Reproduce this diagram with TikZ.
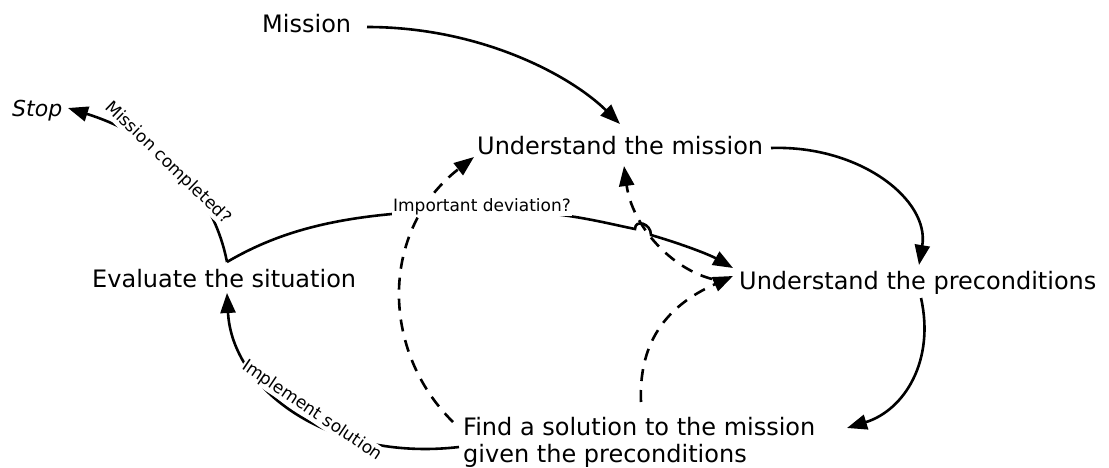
\documentclass[tikz,border=0pt]{standalone}
\usepackage{fontspec}
\setmainfont{DejaVu Sans}
\usetikzlibrary{arrows.meta}
\begin{document}
\begin{tikzpicture}[x=1pt,y=-1pt,
  big/.style={inner sep=0pt,anchor=base west,font=\fontsize{24}{27}\selectfont},
  lbl/.style={inner sep=1pt,fill=white,font=\fontsize{17}{20}\selectfont},
  conn/.style={line width=2.6pt,-{Triangle[length=20pt,width=15pt]}},
  dconn/.style={conn,dash pattern=on 12pt off 9pt}]
\useasboundingbox (0,0) rectangle (1109,468);
% text nodes
\node[big] (mission) at (262,33) {Mission};
\node[big] (umis) at (477,155) {Understand the mission};
\node[big] (upre) at (739,289) {Understand the preconditions};
\node[big] (eval) at (92,287) {Evaluate the situation};
\node[big,align=left,anchor=base west] (find) at (463,462) {Find a solution to the mission\\given the preconditions};
\node[big,anchor=base west,font=\fontsize{22}{26}\selectfont\itshape] (stop) at (12,117) {Stop};
% connector end points
\coordinate (mS) at (367,27);
\coordinate (mE) at (620,124);
\coordinate (uS) at (771,148);
\coordinate (uE) at (919,265);
\coordinate (pS) at (921,298);
\coordinate (pE) at (847,428);
\coordinate (fS) at (459,447);
\coordinate (fE) at (227,293);
\coordinate (V) at (227,262);
\coordinate (sE) at (68,108);
\coordinate (h1) at (635,229);
\coordinate (h2) at (651,235);
\coordinate (dE) at (733,268);
\coordinate (d1S) at (453,422);
\coordinate (d1E) at (474,157);
\coordinate (d2S) at (641,402);
\coordinate (d2E) at (733,276);
\coordinate (d3S) at (712,279);
\coordinate (d3E) at (624,166);
% solid connectors
\draw[conn] (mS) .. controls (480,27) and (570,75) .. (mE);
\draw[conn] (uS) .. controls (860,145) and (930,200) .. (uE);
\draw[conn] (pS) .. controls (935,360) and (905,410) .. (pE);
\draw[conn] (fS) .. controls (330,462) and (232,390) .. (fE);
\draw[conn] (V) .. controls (215,200) and (170,140) .. (sE);
\draw[conn] (V) .. controls (290,225) and (360,211) .. (482,210)
  .. controls (560,210) and (600,222) .. (h1)
  .. controls (635,219) and (651,223) .. (h2)
  .. controls (685,245) and (710,255) .. (dE);
% dashed connectors
\draw[dconn] (d1S) .. controls (380,350) and (380,230) .. (d1E);
\draw[dconn] (d2S) .. controls (638,330) and (680,300) .. (d2E);
\draw[dconn] (d3S) .. controls (670,268) and (632,225) .. (d3E);
% labels
\node[lbl] (dev) at (482,207) {Important deviation?};
\node[lbl,rotate=-44] (comp) at (168,163) {Mission completed?};
\node[lbl,rotate=-34] (impl) at (312,411) {Implement solution};
\end{tikzpicture}
\end{document}
